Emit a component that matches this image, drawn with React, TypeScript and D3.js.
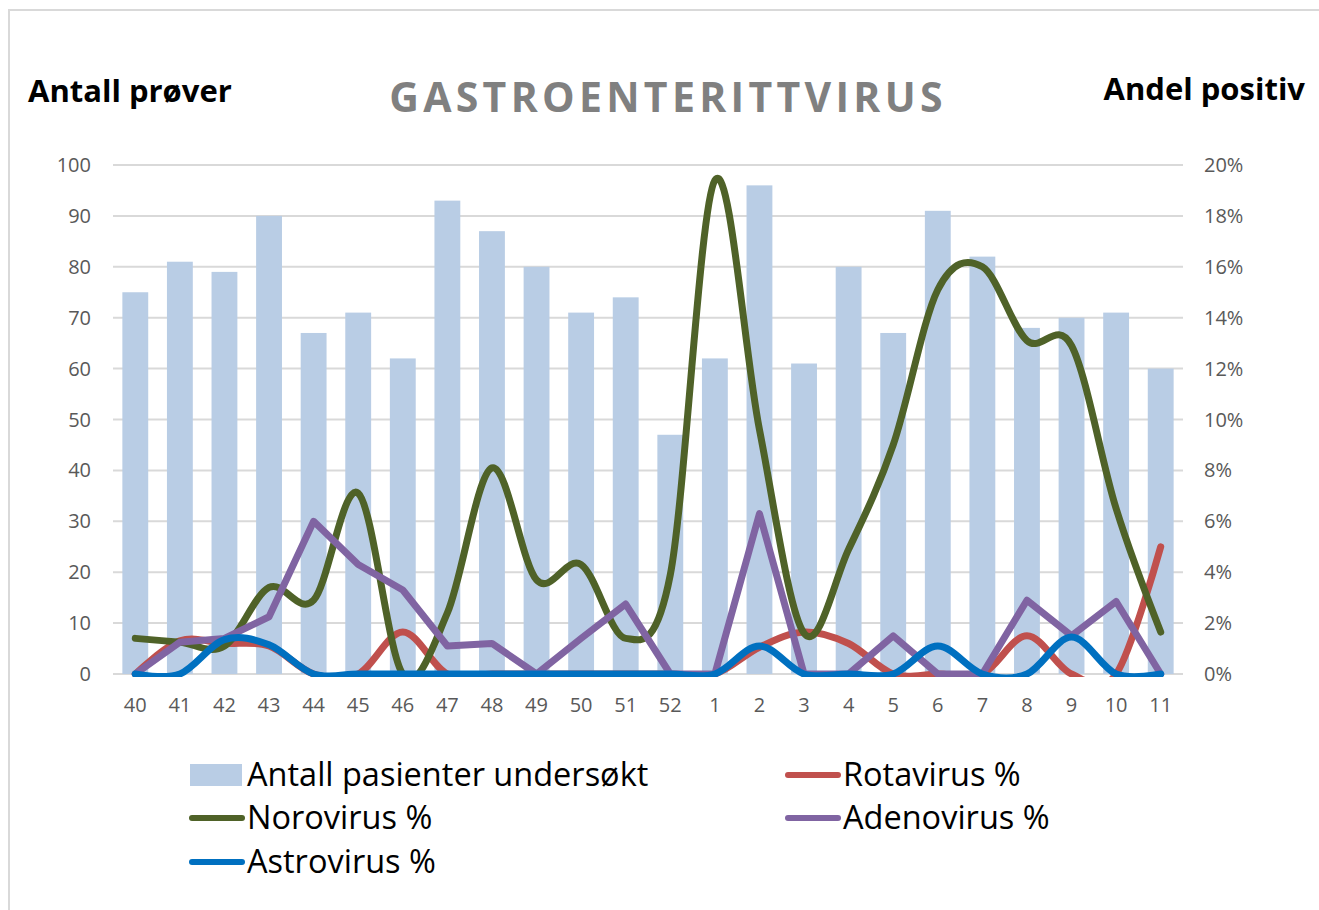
import { useEffect, useRef } from 'react'
import * as d3 from 'd3'

const WEEKS = ['40', '41', '42', '43', '44', '45', '46', '47', '48', '49', '50', '51', '52', '1', '2', '3', '4', '5', '6', '7', '8', '9', '10', '11']
const PATIENTS = [75, 81, 79, 90, 67, 71, 62, 93, 87, 80, 71, 74, 47, 62, 96, 61, 80, 67, 91, 82, 68, 70, 71, 60]
const ROTA = [0, 1.3, 1.2, 1.1, 0, 0, 1.65, 0, 0, 0, 0, 0, 0, 0, 1.05, 1.65, 1.2, 0, 0, 0, 1.5, 0, 0, 5.0]
const NORO = [1.4, 1.25, 1.1, 3.4, 2.9, 7.1, 0, 2.4, 8.1, 3.7, 4.3, 1.4, 3.9, 19.4, 9.6, 1.6, 4.9, 9.0, 15.1, 16.0, 13.1, 12.9, 6.5, 1.65]
const ADENO = [0, 1.25, 1.4, 2.25, 6.0, 4.3, 3.3, 1.1, 1.2, 0, 1.4, 2.75, 0, 0, 6.3, 0, 0, 1.5, 0, 0, 2.9, 1.5, 2.85, 0]
const ASTRO = [0, 0, 1.35, 1.15, 0, 0, 0, 0, 0, 0, 0, 0, 0, 0, 1.1, 0, 0, 0, 1.1, 0, 0, 1.45, 0, 0]
const LEFT_TICKS = [0, 10, 20, 30, 40, 50, 60, 70, 80, 90, 100]
const RIGHT_TICKS = [0, 2, 4, 6, 8, 10, 12, 14, 16, 18, 20]

const LINES = [
  { name: 'Rotavirus %', values: ROTA, color: '#c0504d', smooth: true },
  { name: 'Norovirus %', values: NORO, color: '#4f6228', smooth: true },
  { name: 'Adenovirus %', values: ADENO, color: '#8064a2', smooth: false },
  { name: 'Astrovirus %', values: ASTRO, color: '#0070c0', smooth: true },
]

const FONT = '"Open Sans", Roboto, sans-serif'

export default function App() {
  const svgRef = useRef<SVGSVGElement>(null)

  useEffect(() => {
    if (!svgRef.current) return
    const svg = d3.select(svgRef.current)
    svg.selectAll('*').remove()

    const W = 1319
    const H = 910
    const plot = { left: 113, right: 1183, top: 165, bottom: 674 }

    svg.attr('width', W).attr('height', H)

    // outer chart border (runs off the picture on right and bottom)
    svg.append('rect')
      .attr('x', 9).attr('y', 10)
      .attr('width', W + 20).attr('height', H + 20)
      .attr('fill', '#fff')
      .attr('stroke', '#d9d9d9').attr('stroke-width', 2)

    const x = d3.scaleBand<string>()
      .domain(WEEKS)
      .range([plot.left, plot.right])
      .paddingInner(0.42)
      .paddingOuter(0.21)

    const yL = d3.scaleLinear().domain([0, 100]).range([plot.bottom, plot.top])
    const yR = d3.scaleLinear().domain([0, 20]).range([plot.bottom, plot.top])

    // gridlines
    svg.append('g')
      .selectAll('line')
      .data(LEFT_TICKS)
      .join('line')
      .attr('x1', plot.left).attr('x2', plot.right)
      .attr('y1', (d) => yL(d)).attr('y2', (d) => yL(d))
      .attr('stroke', '#d9d9d9').attr('stroke-width', 2)

    // bars
    svg.append('g')
      .selectAll('rect')
      .data(PATIENTS)
      .join('rect')
      .attr('x', (_, i) => x(WEEKS[i])!)
      .attr('y', (d) => yL(d))
      .attr('width', x.bandwidth())
      .attr('height', (d) => yL(0) - yL(d))
      .attr('fill', '#b9cde5')

    // left axis labels
    svg.append('g')
      .selectAll('text')
      .data(LEFT_TICKS)
      .join('text')
      .attr('x', 91)
      .attr('y', (d) => yL(d))
      .attr('dy', '0.35em')
      .attr('text-anchor', 'end')
      .attr('font-family', FONT)
      .attr('font-size', 20)
      .attr('fill', '#595959')
      .text((d) => d)

    // right axis labels
    svg.append('g')
      .selectAll('text')
      .data(RIGHT_TICKS)
      .join('text')
      .attr('x', 1204)
      .attr('y', (d) => yR(d))
      .attr('dy', '0.35em')
      .attr('font-family', FONT)
      .attr('font-size', 20)
      .attr('fill', '#595959')
      .text((d) => `${d}%`)

    // week labels
    svg.append('g')
      .selectAll('text')
      .data(WEEKS)
      .join('text')
      .attr('x', (d) => x(d)! + x.bandwidth() / 2)
      .attr('y', 705)
      .attr('dy', '0.35em')
      .attr('text-anchor', 'middle')
      .attr('font-family', FONT)
      .attr('font-size', 20)
      .attr('fill', '#595959')
      .text((d) => d)

    // lines, clipped to plot area like Excel
    svg.append('clipPath')
      .attr('id', 'plot-clip')
      .append('rect')
      .attr('x', plot.left - 10).attr('y', plot.top - 20)
      .attr('width', plot.right - plot.left + 20)
      .attr('height', plot.bottom - plot.top + 23)

    const lineG = svg.append('g').attr('clip-path', 'url(#plot-clip)')
    LINES.forEach((s) => {
      const line = d3.line<number>()
        .x((_, i) => x(WEEKS[i])! + x.bandwidth() / 2)
        .y((d) => yR(d))
        .curve(s.smooth ? d3.curveCatmullRom.alpha(0) : d3.curveLinear)
      lineG.append('path')
        .datum(s.values)
        .attr('d', line)
        .attr('fill', 'none')
        .attr('stroke', s.color)
        .attr('stroke-width', 7)
        .attr('stroke-linecap', 'round')
        .attr('stroke-linejoin', 'round')
    })

    // title + axis titles
    svg.append('text')
      .attr('x', 668).attr('y', 112)
      .attr('text-anchor', 'middle')
      .attr('font-family', FONT)
      .attr('font-size', 41)
      .attr('font-weight', 700)
      .attr('letter-spacing', 4.3)
      .attr('fill', '#808080')
      .text('GASTROENTERITTVIRUS')

    svg.append('text')
      .attr('x', 28).attr('y', 102)
      .attr('font-family', FONT)
      .attr('font-size', 31)
      .attr('font-weight', 700)
      .attr('fill', '#000')
      .text('Antall prøver')

    svg.append('text')
      .attr('x', 1305).attr('y', 100)
      .attr('text-anchor', 'end')
      .attr('font-family', FONT)
      .attr('font-size', 31)
      .attr('font-weight', 700)
      .attr('fill', '#000')
      .text('Andel positiv')

    // legend
    const legend = [
      { name: 'Antall pasienter undersøkt', color: '#b9cde5', bar: true },
      ...LINES.map((l) => ({ name: l.name, color: l.color, bar: false })),
    ]
    const colX = [190, 786]
    const rowY = [775, 818, 862]
    legend.forEach((d, i) => {
      const lx = colX[i % 2]
      const ly = rowY[Math.floor(i / 2)]
      if (d.bar) {
        svg.append('rect')
          .attr('x', lx).attr('y', ly - 11)
          .attr('width', 52).attr('height', 22)
          .attr('fill', d.color)
      } else {
        svg.append('line')
          .attr('x1', lx + 2).attr('x2', lx + 52)
          .attr('y1', ly).attr('y2', ly)
          .attr('stroke', d.color)
          .attr('stroke-width', 6)
          .attr('stroke-linecap', 'round')
      }
      svg.append('text')
        .attr('x', lx + 57).attr('y', ly)
        .attr('dy', '0.35em')
        .attr('font-family', FONT)
        .attr('font-size', 32.5)
        .attr('fill', '#000')
        .text(d.name)
    })
  }, [])

  return (
    <svg ref={svgRef} style={{ position: 'absolute', left: 0, top: 0, display: 'block' }} />
  )
}
